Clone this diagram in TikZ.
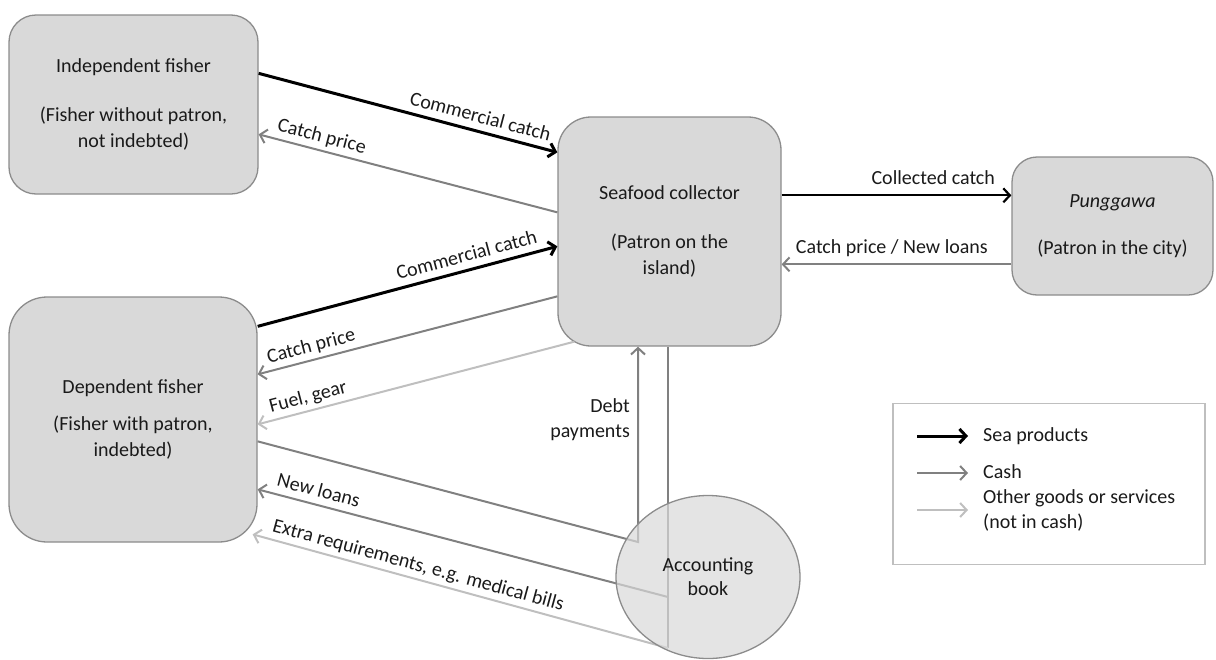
\documentclass[tikz,border=0pt]{standalone}
\usepackage{fontspec}
\setmainfont{Carlito}
\usetikzlibrary{arrows.meta,calc,shapes.geometric}
\definecolor{boxfill}{HTML}{D9D9D9}
\definecolor{boxline}{HTML}{8C8C8C}
\definecolor{cashc}{HTML}{808080}
\definecolor{otherc}{HTML}{BFBFBF}
\definecolor{txt}{HTML}{1A1A1A}
\begin{document}
\begin{tikzpicture}[x=1pt,y=-1pt,
  font=\fontsize{20}{26}\selectfont, text=txt,
  box/.style={draw=boxline, line width=1.3pt, fill=boxfill, align=center, inner sep=0pt},
  tip/.style={-{Straight Barb[length=6.5pt,width=14pt]}},
  sea/.style={tip, line width=3pt, black},
  cashline/.style={line width=2pt, cashc},
  cash/.style={tip, cashline},
  other/.style={tip, line width=2pt, otherc},
  lbl/.style={sloped, above=7pt, inner sep=0pt, text depth=0pt, text=txt},
  hlbl/.style={above=10pt, inner sep=0pt, text depth=0pt, text=txt},
  legbox/.style={draw=otherc, line width=1.3pt},
]
\useasboundingbox (0,0) rectangle (1216,659);

% nodes
\node[box, rounded corners=27pt, minimum width=249pt, minimum height=179pt] (if) at (133.5,104.5)
  {Independent fisher\\[23pt](Fisher without patron,\\not indebted)};
\node[box, rounded corners=38pt, minimum width=248pt, minimum height=245pt] (df) at (133,419.5)
  {Dependent fisher\\[11pt](Fisher with patron,\\indebted)};
\node[box, rounded corners=33pt, minimum width=223pt, minimum height=229pt] (sc) at (669.5,231.5)
  {Seafood collector\\[23pt](Patron on the\\island)};
\node[box, rounded corners=25pt, minimum width=201pt, minimum height=138pt] (pg) at (1112.5,226)
  {\textit{Punggawa}\\[21pt](Patron in the city)};

% coordinates for the book connections
\coordinate (debtc) at (638,542);
\coordinate (vmid) at (668,597);
\coordinate (vbot) at (668,648);

% independent fisher <-> collector
\draw[sea] ($(if.north east)+(0,59)$) -- node[lbl, pos=0.73] (l1) {Commercial catch} ($(sc.north west)+(0,36)$);
\draw[cash] ($(sc.north west)+(0,96)$) -- node[lbl, pos=0.8] (l2) {Catch price} ($(if.north east)+(0,120)$);

% dependent fisher <-> collector
\draw[sea] ($(df.north east)+(0,30)$) -- node[lbl, pos=0.71] (l3) {Commercial catch} ($(sc.north west)+(0,130)$);
\draw[cash] ($(sc.north west)+(0,180)$) -- node[lbl, pos=0.81] (l4) {Catch price} ($(df.north east)+(0,78)$);
\draw[other] ($(sc.south west)+(17,-5)$) -- node[lbl, pos=0.83] (l5) {Fuel, gear} ($(df.north east)+(0,128)$);

% collector <-> punggawa
\draw[sea, line width=2.2pt] ($(sc.north east)+(0,79)$) -- node[hlbl, pos=0.66] (l6) {Collected catch} ($(pg.north west)+(0,39)$);
\draw[cash] ($(pg.north west)+(0,108)$) -- node[hlbl, pos=0.52] (l7) {Catch price / New loans} ($(sc.north east)+(0,148)$);

% debt payments
\draw[cash] ($(df.north east)+(0,145)$) -- (debtc) -- (debtc |- sc.south);
\node[align=right, anchor=east, inner sep=0pt, font=\fontsize{20}{25}\selectfont] (l8) at (630,420) {Debt\\payments};

% new loans and extra requirements
\draw[cashline] (vbot |- sc.south) -- (vbot);
\draw[cash] (vmid) -- node[lbl, pos=0.86] (l9) {New loans} ($(df.north east)+(0,193)$);
\draw[other] (vbot) -- node[lbl, pos=0.61] (l10) {Extra requirements, e.g. medical bills} ($(df.north east)+(-5,238)$);

% accounting book (semi-transparent over lines)
\node[ellipse, draw=boxline, line width=1.3pt, fill=boxfill, fill opacity=0.7, text opacity=1,
  minimum width=184pt, minimum height=163pt, inner sep=0pt, align=center,
  font=\fontsize{20}{24}\selectfont] (ab) at (708,577) {Accounting\\book};

% legend
\node[legbox, minimum width=312pt, minimum height=161pt, inner sep=0pt] (leg) at (1049,484) {};
\coordinate (k1a) at (917,436); \coordinate (k1b) at (968,436);
\coordinate (k2a) at (917,473); \coordinate (k2b) at (968,473);
\coordinate (k3a) at (917,510); \coordinate (k3b) at (968,510);
\draw[sea] (k1a) -- (k1b);
\draw[cash] (k2a) -- (k2b);
\draw[other] (k3a) -- (k3b);
\node[anchor=west, inner sep=0pt] (t1) at (983,436) {Sea products};
\node[anchor=west, inner sep=0pt] (t2) at (983,472) {Cash};
\node[anchor=west, inner sep=0pt, align=left, font=\fontsize{20}{25}\selectfont] (t3) at (983,510) {Other goods or services\\(not in cash)};
\end{tikzpicture}
\end{document}
